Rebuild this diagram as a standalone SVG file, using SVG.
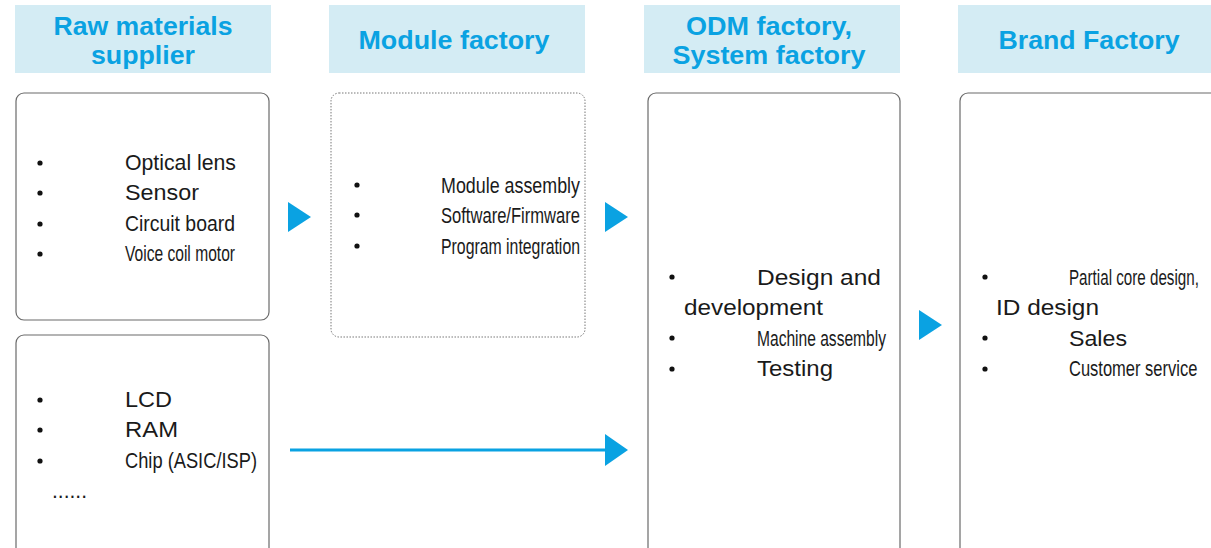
<svg xmlns="http://www.w3.org/2000/svg" width="1211" height="548" viewBox="0 0 1211 548">
<style>
.hdr{fill:#d4ecf4}
.ht{font-family:"Liberation Sans",Arial,sans-serif;font-weight:bold;font-size:25px;fill:#0aa2e2;text-anchor:middle}
.box{fill:#fff;stroke:#6a6a6a;stroke-width:1.2}
.dot{fill:#fff;stroke:#777;stroke-width:1;stroke-dasharray:1.5 1.5}
.t{font-family:"Liberation Sans",Arial,sans-serif;font-size:22px;fill:#1a1a1a}
.b{fill:#111}
.tri{fill:#0aa2e2}
</style>
<g id="hdr1"><rect class="hdr" x="15" y="5" width="256" height="68"/>
<text class="ht" x="143" y="35" textLength="179" lengthAdjust="spacingAndGlyphs">Raw materials</text>
<text class="ht" x="143" y="64" textLength="104" lengthAdjust="spacingAndGlyphs">supplier</text></g>
<g id="hdr2"><rect class="hdr" x="329" y="5" width="256" height="68"/>
<text class="ht" x="454" y="49" textLength="191" lengthAdjust="spacingAndGlyphs">Module factory</text></g>
<g id="hdr3"><rect class="hdr" x="644" y="5" width="256" height="68"/>
<text class="ht" x="769" y="35" textLength="166" lengthAdjust="spacingAndGlyphs">ODM factory,</text>
<text class="ht" x="769" y="64" textLength="193" lengthAdjust="spacingAndGlyphs">System factory</text></g>
<g id="hdr4"><rect class="hdr" x="958" y="5" width="256" height="68"/>
<text class="ht" x="1089" y="49" textLength="181" lengthAdjust="spacingAndGlyphs">Brand Factory</text></g>

<g id="boxA"><rect class="box" x="16" y="93" width="253" height="227" rx="8"/>
<circle class="b" cx="40" cy="163" r="2.6"/><circle class="b" cx="40" cy="193" r="2.6"/><circle class="b" cx="40" cy="224" r="2.6"/><circle class="b" cx="40" cy="254" r="2.6"/>
<text class="t" x="125" y="170" textLength="111" lengthAdjust="spacingAndGlyphs">Optical lens</text>
<text class="t" x="125" y="200" textLength="74" lengthAdjust="spacingAndGlyphs">Sensor</text>
<text class="t" x="125" y="231" textLength="110" lengthAdjust="spacingAndGlyphs">Circuit board</text>
<text class="t" x="125" y="261" textLength="110" lengthAdjust="spacingAndGlyphs">Voice coil motor</text></g>

<g id="boxE"><rect class="box" x="16" y="335" width="253" height="225" rx="8"/>
<circle class="b" cx="40" cy="400" r="2.6"/><circle class="b" cx="40" cy="430" r="2.6"/><circle class="b" cx="40" cy="461" r="2.6"/>
<text class="t" x="125" y="407" textLength="47" lengthAdjust="spacingAndGlyphs">LCD</text>
<text class="t" x="125" y="437" textLength="53" lengthAdjust="spacingAndGlyphs">RAM</text>
<text class="t" x="125" y="468" textLength="132" lengthAdjust="spacingAndGlyphs">Chip (ASIC/ISP)</text>
<text class="t" x="52" y="498" font-size="16" textLength="35" lengthAdjust="spacingAndGlyphs">......</text></g>

<g id="boxB"><rect class="dot" x="331" y="93" width="254" height="244" rx="8"/>
<circle class="b" cx="357" cy="185" r="2.6"/><circle class="b" cx="357" cy="215" r="2.6"/><circle class="b" cx="357" cy="246" r="2.6"/>
<text class="t" x="441" y="193" textLength="139" lengthAdjust="spacingAndGlyphs">Module assembly</text>
<text class="t" x="441" y="223" textLength="139" lengthAdjust="spacingAndGlyphs">Software/Firmware</text>
<text class="t" x="441" y="254" textLength="139" lengthAdjust="spacingAndGlyphs">Program integration</text></g>

<g id="boxC"><rect class="box" x="648" y="93" width="252" height="470" rx="8"/>
<circle class="b" cx="672" cy="277" r="2.6"/><circle class="b" cx="672" cy="338" r="2.6"/><circle class="b" cx="672" cy="369" r="2.6"/>
<text class="t" x="757" y="285" textLength="124" lengthAdjust="spacingAndGlyphs">Design and</text>
<text class="t" x="684" y="315" textLength="139" lengthAdjust="spacingAndGlyphs">development</text>
<text class="t" x="757" y="346" textLength="129" lengthAdjust="spacingAndGlyphs">Machine assembly</text>
<text class="t" x="757" y="376" textLength="76" lengthAdjust="spacingAndGlyphs">Testing</text></g>

<g id="boxD"><rect class="box" x="960" y="93" width="262" height="470" rx="8"/>
<circle class="b" cx="985" cy="277" r="2.6"/><circle class="b" cx="985" cy="338" r="2.6"/><circle class="b" cx="985" cy="369" r="2.6"/>
<text class="t" transform="translate(1069,285) scale(0.69,1)">Partial core design,</text>
<text class="t" x="996" y="315" textLength="103" lengthAdjust="spacingAndGlyphs">ID design</text>
<text class="t" x="1069" y="346" textLength="58" lengthAdjust="spacingAndGlyphs">Sales</text>
<text class="t" transform="translate(1069,376) scale(0.75,1)">Customer service</text></g>

<g id="connectors">
<polygon class="tri" points="288,202 311,217 288,232"/>
<polygon class="tri" points="605,202 628,217 605,232"/>
<polygon class="tri" points="919,310 942,325 919,340"/>
<line x1="290" y1="450" x2="610" y2="450" stroke="#0aa2e2" stroke-width="3"/>
<polygon class="tri" points="605,434 628,450 605,466"/>
</g>
</svg>
